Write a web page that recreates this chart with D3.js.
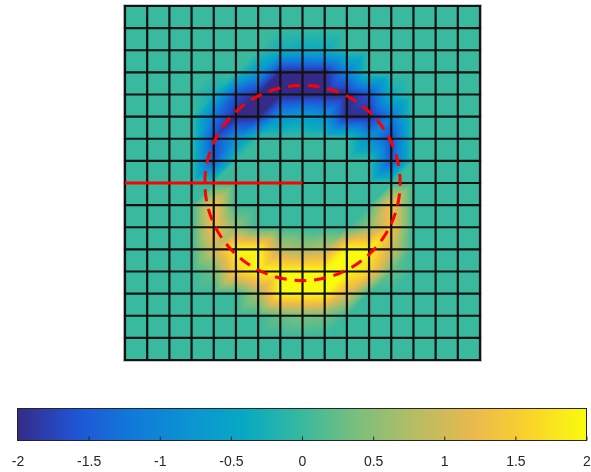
<!doctype html>
<html>
<head>
<meta charset="utf-8">
<script src="https://d3js.org/d3.v7.min.js"></script>
<style>
  body { margin: 0; background: #fff; }
  #wrap { position: relative; width: 591px; height: 472px; }
  #wrap canvas, #wrap svg { position: absolute; left: 0; top: 0; }
  .cb text { font: 14px "Liberation Sans", Arial, sans-serif; fill: #262626; }
</style>
</head>
<body>
<div id="wrap"></div>
<script>
// grid size (cells) and overlay geometry in data units
var nCols = 16, nRows = 16;
var circleCenter = [8, 8], circleRadius = 4.4;
var lineFrom = [0, 8], lineTo = [8, 8];

// colour limits and colorbar ticks
var cLimits = [-2, 2];
var cbTicks = [-2, -1.5, -1, -0.5, 0, 0.5, 1, 1.5, 2];

// parula
var parula = ["#352a87", "#2053d4", "#1079da", "#0c93d2", "#07a9c2", "#38b99e",
              "#7cbf7b", "#b7bd64", "#e9b94e", "#fad32a", "#f9fb0e"];

// values at the grid nodes, row 0 = top
var nodeValues = [
  [0,0,0,0,0,0,0,0,0,0,0,0,0,0,0,0,0],
  [0,0,0,0,0,0,0,0,0,0,0,0,0,0,0,0,0],
  [0,0,0,0,0,0,0,-0.3,-0.4,-0.35,0,0,0,0,0,0,0],
  [0,0,0,0,0,0,-0.7,-2,-2,-2,-1.1,0,0,0,0,0,0],
  [0,0,0,0,-0.3,-1.6,-2,-2,-2,-2,-2,-1.6,-0.3,0,0,0,0],
  [0,0,0,0,-1.2,-2,-2,-0.8,-0.6,-0.8,-2,-2,-1.2,0,0,0,0],
  [0,0,0,0,-1.7,-0.8,0,0,0,0,0,-0.8,-1.7,0,0,0,0],
  [0,0,0,0,-1.6,0,0,0,0,0,0,0,-1.6,0,0,0,0],
  [0,0,0,0,0,0,0,0,0,0,0,0,0,0,0,0,0],
  [0,0,0,0,1.4,0,0,0,0,0,0,0,1.4,0,0,0,0],
  [0,0,0,0,1.4,0.5,0,0,0,0,0,0.5,1.4,0,0,0,0],
  [0,0,0,0,1,2,2,0.8,0.6,0.8,2,2,1,0,0,0,0],
  [0,0,0,0,0.3,1.6,2,2,2,2,2,1.6,0.3,0,0,0,0],
  [0,0,0,0,0,0,0.7,2,2,2,1.1,0,0,0,0,0,0],
  [0,0,0,0,0,0,0,0.3,0.4,0.35,0,0,0,0,0,0,0],
  [0,0,0,0,0,0,0,0,0,0,0,0,0,0,0,0,0],
  [0,0,0,0,0,0,0,0,0,0,0,0,0,0,0,0,0]
];

var width = 591, height = 472;
var x = d3.scaleLinear().domain([0, nCols]).range([125, 480]);
var y = d3.scaleLinear().domain([0, nRows]).range([6, 360]);

var stops = parula.map(function(c, i) {
  return cLimits[0] + (cLimits[1] - cLimits[0]) * i / (parula.length - 1);
});
var color = d3.scaleLinear().domain(stops).range(parula).clamp(true);

var wrap = d3.select("#wrap");

// --- interpolated field on a canvas ---
var canvas = wrap.append("canvas").attr("width", width).attr("height", height);
var ctx = canvas.node().getContext("2d");

var lut = d3.range(512).map(function(k) {
  return d3.rgb(color(cLimits[0] + (cLimits[1] - cLimits[0]) * k / 511));
});

var px0 = Math.round(x(0)), px1 = Math.round(x(nCols));
var py0 = Math.round(y(0)), py1 = Math.round(y(nRows));
var img = ctx.createImageData(px1 - px0, py1 - py0);
for (var py = 0; py < py1 - py0; py++) {
  for (var px = 0; px < px1 - px0; px++) {
    var u = x.invert(px0 + px + 0.5), v = y.invert(py0 + py + 0.5);
    var i = Math.min(nCols - 1, Math.floor(u)), j = Math.min(nRows - 1, Math.floor(v));
    var fx = u - i, fy = v - j;
    var tl = nodeValues[j][i], tr = nodeValues[j][i + 1],
        bl = nodeValues[j + 1][i], br = nodeValues[j + 1][i + 1];
    var val;
    // each cell is split along its top-right / bottom-left diagonal
    if (fx + fy <= 1) val = tl + (tr - tl) * fx + (bl - tl) * fy;
    else val = br + (bl - br) * (1 - fx) + (tr - br) * (1 - fy);
    var k = Math.round((val - cLimits[0]) / (cLimits[1] - cLimits[0]) * 511);
    k = Math.max(0, Math.min(511, k));
    var c = lut[k], o = 4 * (py * (px1 - px0) + px);
    img.data[o] = c.r; img.data[o + 1] = c.g; img.data[o + 2] = c.b; img.data[o + 3] = 255;
  }
}
ctx.putImageData(img, px0, py0);

// --- vector overlay ---
var svg = wrap.append("svg").attr("width", width).attr("height", height);

svg.append("rect")
   .attr("x", x(0) - 1.5).attr("y", y(0) - 1.5)
   .attr("width", x(nCols) - x(0) + 3).attr("height", y(nRows) - y(0) + 3)
   .attr("fill", "none").attr("stroke", "#c8c8c8").attr("stroke-width", 1);

var grid = svg.append("g").attr("stroke", "#121212").attr("stroke-width", 2.2)
              .attr("stroke-linecap", "square");
grid.selectAll(".v").data(d3.range(nCols + 1)).enter().append("line")
    .attr("x1", function(d) { return x(d); }).attr("x2", function(d) { return x(d); })
    .attr("y1", y(0)).attr("y2", y(nRows));
grid.selectAll(".h").data(d3.range(nRows + 1)).enter().append("line")
    .attr("y1", function(d) { return y(d); }).attr("y2", function(d) { return y(d); })
    .attr("x1", x(0)).attr("x2", x(nCols));

svg.append("line")
   .attr("x1", x(lineFrom[0])).attr("y1", y(lineFrom[1]))
   .attr("x2", x(lineTo[0])).attr("y2", y(lineTo[1]))
   .attr("stroke", "#ff0000").attr("stroke-width", 3);

var cx = x(circleCenter[0]), cy = y(circleCenter[1]);
svg.append("circle")
   .attr("cx", cx).attr("cy", cy)
   .attr("r", x(circleRadius) - x(0))
   .attr("transform", "rotate(180," + cx + "," + cy + ")")
   .attr("fill", "none").attr("stroke", "#ff0000").attr("stroke-width", 3)
   .attr("stroke-dasharray", "12,7.8");

// --- colorbar ---
var cb = d3.scaleLinear().domain(cLimits).range([17.5, 586.5]);
var cbTop = 408.5, cbBottom = 440.5;

var grad = svg.append("defs").append("linearGradient").attr("id", "parula");
grad.selectAll("stop").data(parula).enter().append("stop")
    .attr("offset", function(d, i) { return (100 * i / (parula.length - 1)) + "%"; })
    .attr("stop-color", function(d) { return d; });

svg.append("rect")
   .attr("x", cb.range()[0]).attr("y", cbTop)
   .attr("width", cb.range()[1] - cb.range()[0]).attr("height", cbBottom - cbTop)
   .attr("fill", "url(#parula)").attr("stroke", "#262626").attr("stroke-width", 1);

var axis = svg.append("g").attr("class", "cb")
   .attr("transform", "translate(0," + cbBottom + ")")
   .call(d3.axisBottom(cb).tickValues(cbTicks).tickSize(-4).tickPadding(16)
           .tickFormat(function(d) { return String(d); }));
axis.select(".domain").remove();
axis.selectAll(".tick line").attr("stroke", "#262626");
</script>
</body>
</html>
